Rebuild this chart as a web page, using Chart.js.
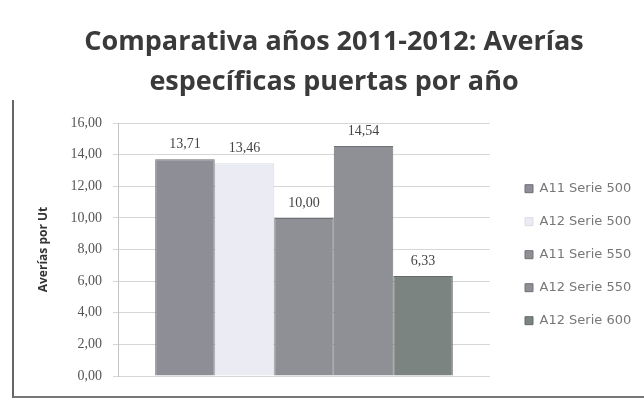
<!DOCTYPE html>
<html>
<head>
<meta charset="utf-8">
<script src="https://cdn.jsdelivr.net/npm/chart.js@4.4.0/dist/chart.umd.min.js"></script>
<style>
  html, body { margin: 0; padding: 0; background: #fff; }
  #wrap { position: relative; width: 644px; height: 399px; }
  #frame { position: absolute; left: 12px; top: 100px; width: 640px; height: 296px;
           border-left: 2px solid #666; border-bottom: 2px solid #777; }
  canvas { position: absolute; left: 0; top: 0; }
</style>
</head>
<body>
<div id="wrap">
  <div id="frame"></div>
  <canvas id="grafico" width="644" height="399"></canvas>
</div>
<script>
const categorias = [''];
const series = ['A11 Serie 500', 'A12 Serie 500', 'A11 Serie 550', 'A12 Serie 550', 'A12 Serie 600'];
const valores = [13.71, 13.46, 10.00, 14.54, 6.33];
const colores = ['#8e8e97', '#ebebf3', '#8f9095', '#8e9096', '#7c8482'];
const bordes = ['#6e6e76', '#dcdce6', '#707176', '#707278', '#646b69'];
const ticksY = [0, 2, 4, 6, 8, 10, 12, 14, 16];

const coma = v => v.toFixed(2).replace('.', ',');

// etiquetas de valor encima de cada barra
const etiquetas = {
  id: 'etiquetas',
  afterDatasetsDraw(chart) {
    const c = chart.ctx;
    c.save();
    c.font = '14px "Liberation Serif"';
    c.fillStyle = '#444';
    c.textAlign = 'center';
    c.textBaseline = 'bottom';
    chart.data.datasets.forEach((ds, i) => {
      const bar = chart.getDatasetMeta(i).data[0];
      c.fillText(coma(ds.data[0]), bar.x, bar.y - 8);
    });
    c.restore();
  }
};

// ancho fijo de la leyenda (si no, Chart.js la recorta)
const anchoLeyenda = {
  id: 'anchoLeyenda',
  afterInit(chart) {
    const lg = chart.legend;
    const fit = lg.fit;
    lg.fit = function () {
      fit.call(this);
      this.width = 139;
    };
  }
};

const ctx = document.getElementById('grafico');

new Chart(ctx, {
  type: 'bar',
  data: {
    labels: categorias,
    datasets: series.map((s, i) => ({
      label: s,
      data: [valores[i]],
      backgroundColor: colores[i],
      borderColor: bordes[i],
      borderWidth: 1,
      categoryPercentage: 0.8,
      barPercentage: 1.0
    }))
  },
  options: {
    responsive: false,
    animation: false,
    layout: { padding: { left: 24, right: 0, top: 0, bottom: 0 } },
    plugins: {
      title: {
        display: true,
        text: ['Comparativa años 2011-2012: Averías', 'específicas puertas por año'],
        color: '#3a3a3a',
        font: { family: '"Open Sans"', size: 27, weight: 'bold', lineHeight: 1.5 },
        padding: { top: 22, bottom: 20 }
      },
      legend: {
        position: 'right',
        title: { display: true, text: ' ', padding: { top: 96, bottom: 0 }, font: { size: 12 } },
        labels: {
          boxWidth: 8,
          boxHeight: 8,
          padding: 20,
          color: '#777',
          font: { family: '"DejaVu Sans"', size: 13 }
        }
      },
      tooltip: { enabled: false }
    },
    scales: {
      x: {
        grid: { display: false },
        border: { display: false },
        ticks: { display: false },
        afterFit: s => { s.height = 23; }
      },
      y: {
        min: 0,
        max: 16,
        afterBuildTicks: s => { s.ticks = ticksY.map(v => ({ value: v })); },
        afterFit: s => { s.width = 94; },
        title: {
          display: true,
          text: 'Averías por Ut',
          color: '#333',
          font: { family: '"Open Sans"', size: 12, weight: 'bold' },
          padding: { top: 12, bottom: 0 }
        },
        ticks: {
          color: '#555',
          padding: 11,
          font: { family: '"Liberation Serif"', size: 14 },
          callback: v => coma(v)
        },
        grid: { color: '#d6d6d6', tickLength: 5 },
        border: { color: '#c4c4c4' }
      },
      y2: {
        position: 'right',
        display: true,
        grid: { display: false },
        border: { display: false },
        ticks: { display: false },
        afterFit: s => { s.width = 15; }
      }
    }
  },
  plugins: [etiquetas, anchoLeyenda]
});
</script>
</body>
</html>
